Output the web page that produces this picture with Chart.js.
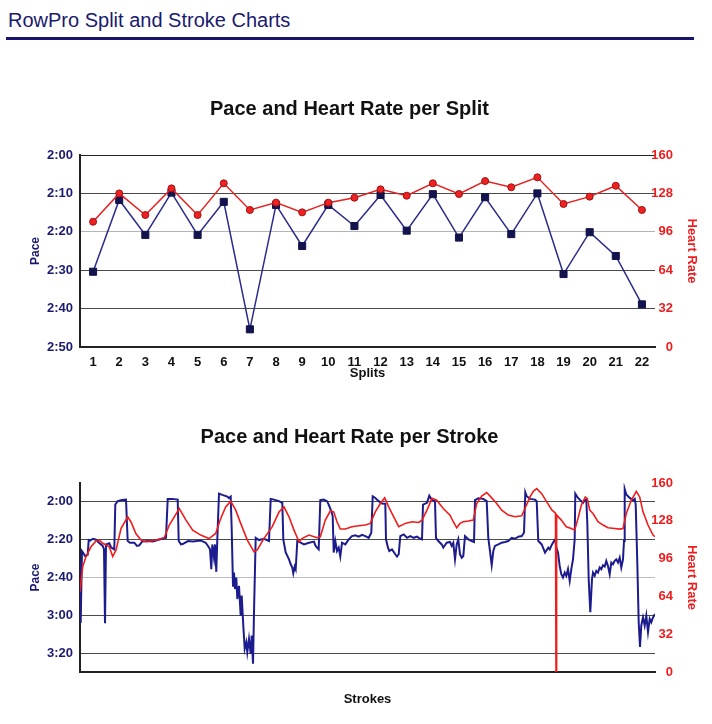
<!DOCTYPE html>
<html>
<head>
<meta charset="utf-8">
<title>RowPro Split and Stroke Charts</title>
<script src="https://cdn.jsdelivr.net/npm/chart.js@4.4.0/dist/chart.umd.min.js"></script>
<style>
  html, body { margin: 0; padding: 0; background: #fff; }
  body { width: 712px; height: 724px; position: relative; overflow: hidden; font-family: "Liberation Sans", Arial, sans-serif; }
  #header { position: absolute; left: 8px; top: 10px; font-size: 20px; line-height: 20px; color: #1a1a6e; white-space: nowrap; }
  #rule { position: absolute; left: 6px; top: 37px; width: 688px; height: 3px; background: #15156e; }
  #splitChart { position: absolute; left: 0; top: 80px; }
  #strokeChart { position: absolute; left: 0; top: 401px; }
</style>
</head>
<body>
<div id="header">RowPro Split and Stroke Charts</div>
<div id="rule"></div>
<canvas id="splitChart" width="712" height="306"></canvas>
<canvas id="strokeChart" width="712" height="310"></canvas>
<script>
// ---- split chart data (pace in seconds per 500m, heart rate in bpm)
const splitLabels = ['1', '2', '3', '4', '5', '6', '7', '8', '9', '10', '11',
                     '12', '13', '14', '15', '16', '17', '18', '19', '20', '21', '22'];
const splitPace = [150.4, 131.7, 140.8, 129.8, 140.8, 132.2, 165.4, 133, 143.7, 133, 138.5,
                   130.4, 139.7, 130.2, 141.5, 131, 140.6, 130, 151, 140.1, 146.3, 158.9];
const splitHr = [104.4, 128, 110, 132.2, 110, 136.4, 114.2, 120.3, 112.2, 120.3, 124.4,
                 131.4, 126.1, 136.4, 127.5, 138.3, 133.1, 141.4, 119.2, 125.3, 134.4, 114.2];

// ---- stroke chart data
const paceStrokeNo = [
  0, 0.7, 1.5, 2, 3.3, 5, 7.7, 8.7, 10, 13,
  16, 19, 22.7, 24, 25, 26, 29.3, 31, 34.3, 35.3,
  37.7, 42, 46, 47.7, 50, 54.3, 57, 59.3, 62, 68,
  72.7, 76, 82, 86, 87.7, 92, 97.7, 98.7, 101, 102.7,
  108, 113, 120.7, 125.7, 128, 130, 131.3, 132.3, 134, 135,
  136.3, 137.3, 139, 142.3, 147.3, 149, 150.7, 151.7, 153, 154,
  155, 156.3, 157.3, 159, 160.7, 161.7, 163.3, 164.7, 166.3, 167.3,
  169, 170.7, 171.7, 173, 174, 175.7, 179, 184, 189, 190.7,
  194, 199, 202.3, 203.3, 205.7, 209, 210.7, 212.3, 213.3, 214.7,
  215.7, 217.3, 220.7, 224, 229, 234, 235.3, 237, 238.7, 240.3,
  243.7, 247, 248.7, 251.3, 252.7, 253.7, 255.3, 257, 258.7, 260.3,
  262, 265.3, 268.7, 272, 275.3, 278.7, 282, 285.3, 288.7, 291.3,
  292.7, 295.3, 298.7, 302, 305.3, 306, 308, 309.3, 312, 315.3,
  317, 318.7, 320.3, 323.7, 327, 330.3, 333.7, 337, 340.3, 342,
  343, 347, 349.3, 351.7, 355, 356, 358.3, 361.7, 363.3, 366.7,
  370, 371.7, 373.3, 375, 376.7, 378.3, 380, 381.7, 383.3, 385,
  388.3, 391.7, 394, 395, 398.3, 403.3, 406.7, 408.3, 410, 411.7,
  413.3, 415, 418.3, 421.7, 425, 428.3, 431.7, 435, 438.3, 441.7,
  444, 445.3, 446.7, 450, 455, 456.7, 458.3, 461.7, 465, 468.3,
  469.7, 472, 474, 475.3, 476.3, 478, 479.7, 481.3, 483, 484.7,
  486.3, 488, 489.7, 491.3, 493, 494.7, 495.3, 498, 501.3, 503,
  504.7, 506.3, 507.3, 508.7, 510.3, 512, 513, 514.7, 516.3, 518,
  519.7, 521.3, 523, 524.7, 526.3, 528, 529.7, 531.3, 533, 534.7,
  536.3, 538, 539.7, 541.3, 543, 544, 544.7, 546.3, 549.7, 553,
  554.7, 555.7, 557.3, 558.7, 560, 561.3, 563, 564.7, 566.3, 568,
  569.7, 571.3, 573, 575
];
const paceStrokeSec = [
  152, 184, 160, 146, 147, 148.6, 148, 140.2, 140.5, 139.5,
  140, 141.6, 143.3, 145, 184.2, 142.5, 141.9, 144, 145.1, 121.4,
  119.6, 119, 118.8, 140.7, 141.6, 141.6, 143.3, 143, 141, 140.7,
  141, 140.4, 139.5, 139, 118.4, 118.4, 118.8, 140.7, 142.5, 142.3,
  140.7, 141, 140.4, 141.6, 143.3, 145.1, 155.6, 142.5, 149.5, 142.5,
  157, 139.8, 115.6, 116.3, 117.2, 118, 117.2, 134.6, 164.4, 157.4,
  166.1, 160, 171.4, 164.4, 180.2, 169.6, 185.4, 197.7, 194.2, 199.5,
  192.5, 200.4, 190.7, 205.6, 178.4, 139, 140.2, 139.5, 140.7, 118.4,
  118.8, 119.6, 120.5, 139.8, 146.8, 150.4, 153, 154.7, 157.7, 154.2,
  155.6, 140.7, 141.6, 142.5, 141.6, 141, 143, 144.2, 145.1, 119.1,
  118.8, 119.6, 121.4, 124.9, 127.5, 146.8, 140.7, 146, 144.2, 148.9,
  141.6, 142.5, 139.8, 138.1, 137.7, 138.4, 137.4, 138.1, 139, 136.3,
  117, 117.9, 119.6, 120.8, 121, 139.8, 144.2, 146, 145.1, 147.7,
  148.9, 147.7, 138.1, 137.2, 139, 138.1, 139, 138.4, 139.5, 139.8,
  121.4, 120.5, 116.7, 118.8, 119.6, 139, 140.7, 142.5, 144.2, 141.6,
  141.2, 143.3, 141.6, 150.4, 142.5, 139.8, 147.7, 149.5, 148.6, 138.1,
  139.8, 140.7, 141.2, 119.1, 118.1, 118.4, 119.6, 139, 146, 153.5,
  146, 143.3, 142.5, 141.6, 141.2, 140.7, 139, 139.5, 138.4, 138.1,
  136.3, 114.9, 117, 118.4, 118.8, 119.6, 140.7, 142.5, 146.8, 144.2,
  145.1, 142.5, 140.7, 139.8, 144.2, 146.8, 153.9, 158.2, 160, 157.4,
  159.1, 155.6, 161.8, 155.6, 150.4, 139.8, 115.6, 117.9, 119.6, 120.5,
  119.1, 118.8, 131.1, 160.9, 178.4, 160.9, 157.4, 159.1, 156.5, 157.4,
  154.7, 155.6, 153.5, 154.2, 151.2, 153.9, 158.2, 152.1, 153, 151.2,
  150.4, 152.1, 149.5, 154.7, 150.4, 140.7, 113.2, 116.1, 117.9, 119.1,
  118.4, 121.4, 152.1, 183.7, 196.8, 185.4, 181.1, 185.4, 180.2, 188.9,
  181.9, 183.7, 181.1, 179.3
];
const hrStrokeNo = [
  0, 2.7, 6, 11, 16, 19.3, 22.7, 26, 29.3, 32.7,
  36, 41, 47.7, 51, 56, 61, 66, 76, 84.3, 89.3,
  99.3, 106, 112.7, 120.7, 129, 135.7, 140.7, 145.7, 150.7, 155.7,
  160.7, 167.3, 174, 177.3, 184, 192.3, 199, 204, 209, 214,
  219, 222.3, 229, 237, 240.3, 245.3, 250.3, 253.7, 257, 260.3,
  265.3, 272, 278.7, 285.3, 290.3, 295.3, 300.3, 304.7, 308.7, 313.7,
  318.7, 325.3, 332, 338.7, 342, 347, 352, 356.7, 363.3, 370,
  373.3, 376.7, 380, 383.3, 388.3, 393.3, 396.7, 401.7, 406.7, 411.7,
  416.7, 421.7, 428.3, 435, 441.7, 445, 450, 453.3, 456.7, 461.7,
  466.7, 472, 475.5, 476, 476.6, 481.3, 486.3, 491.3, 494.7, 498,
  501.3, 505.3, 507.3, 509.7, 513, 518, 523, 528, 534.7, 539.7,
  543, 546.3, 551.3, 556.3, 559.7, 563, 568, 573, 575
];
const hrStrokeBpm = [
  68, 89, 97.7, 106, 111, 111.7, 109, 107.5, 106, 97.7,
  103, 121.5, 131.4, 127, 117, 111.7, 110.3, 111.7, 113.7, 124.4,
  138.4, 128.6, 120.1, 115.9, 113, 117.3, 130, 139.8, 144.6, 137,
  125.8, 111.7, 101.9, 103.3, 113.1, 123, 135.4, 139.8, 131.4, 120.1,
  110.3, 113.1, 115.9, 113.7, 114.5, 128.6, 136.3, 135.6, 127.2, 121,
  121, 123, 123.8, 124.4, 125.8, 135.6, 142.6, 147.4, 139.8, 131.4,
  123, 125.8, 127.2, 126.6, 128.6, 137, 147, 145.4, 138.4, 132.8,
  127.2, 122.1, 125.8, 127.2, 127.8, 128.6, 142.6, 149, 151.9, 147.4,
  142.6, 137, 132.8, 131.4, 132.2, 138.4, 148.2, 153, 155.2, 151,
  144, 137, 134.5, 0, 133, 128.6, 123, 121.5, 120.1, 130,
  141.2, 148.2, 146.8, 137, 134.2, 127.2, 124.4, 122.1, 121.5, 121,
  121.5, 134.2, 145.4, 153, 148.2, 135.6, 124.4, 115.9, 114.5
];
const strokePaceTicks = [120, 140, 160, 180, 200];

const FONT = '"Liberation Sans", Arial, Helvetica, sans-serif';
const NAVY = '#1a1a6e';
const RED = '#ee1c1c';

// grid lines look lighter where they fall between pixels in the original
const splitGridColors = ['#c8c8c8', '#4a4a4a', '#4a4a4a', '#b4b4b4', '#4a4a4a', '#222222'];
const strokeGridColors = ['#4a4a4a', '#4a4a4a', '#bcbcbc', '#4a4a4a', '#4a4a4a'];

function fmtPace(v) {
  const m = Math.floor(v / 60);
  const s = Math.round(v - m * 60);
  return m + ':' + String(s).padStart(2, '0');
}

function boldFont(size) {
  return { family: FONT, size: size, weight: 'bold', lineHeight: 1 };
}

function titleOpts(text) {
  return {
    display: true, text: text, color: '#111',
    font: { family: FONT, size: 20, weight: 'bold', lineHeight: 1.2 }
  };
}

function paceAxis(extra) {
  return Object.assign({
    position: 'left',
    reverse: true,
    border: { display: true, color: '#222', width: 2 },
    title: { display: true, text: 'Pace', color: NAVY, font: boldFont(12), padding: { top: 4, bottom: 4 } },
    afterFit: (scale) => { scale.width = 54; }
  }, extra);
}

// heart-rate axis: mirrored labels (no clipping) right-aligned at x=673,
// title pushed out into the right padding
function hrAxis() {
  return {
    position: 'right',
    min: 0,
    max: 160,
    ticks: { stepSize: 32, color: RED, mirror: true, padding: 18, crossAlign: 'near', font: boldFont(13) },
    grid: { display: false, drawTicks: false },
    border: { display: false },
    title: { display: true, text: 'Heart Rate', color: RED, font: boldFont(13), padding: { top: -25.5, bottom: 0 } },
    afterFit: (scale) => { scale.width = 18; }
  };
}

const common = {
  responsive: false,
  animation: false,
  devicePixelRatio: 1,
  layout: { padding: { left: 26, right: 39, top: 0, bottom: 0 } }
};

// ---- Pace and Heart Rate per Split
new Chart(document.getElementById('splitChart'), {
  type: 'line',
  data: {
    labels: splitLabels,
    datasets: [{
      label: 'Pace',
      data: splitPace,
      yAxisID: 'pace',
      order: 1,
      borderColor: '#2b2b8c',
      borderWidth: 1.5,
      tension: 0,
      pointStyle: 'rect',
      pointRadius: 5,
      pointBackgroundColor: '#13134d',
      pointBorderColor: '#13134d',
      pointBorderWidth: 1
    }, {
      label: 'Heart Rate',
      data: splitHr,
      yAxisID: 'hr',
      order: 0,
      borderColor: '#e52222',
      borderWidth: 1.5,
      tension: 0,
      pointStyle: 'circle',
      pointRadius: 3.5,
      pointBackgroundColor: '#ee2222',
      pointBorderColor: '#a01010',
      pointBorderWidth: 1
    }]
  },
  options: {
    ...common,
    plugins: {
      legend: { display: false },
      tooltip: { enabled: false },
      title: { ...titleOpts('Pace and Heart Rate per Split'), padding: { top: 17, bottom: 34 } }
    },
    scales: {
      x: {
        offset: true,
        grid: { display: false, drawTicks: false },
        border: { display: true, color: '#222', width: 2 },
        ticks: { color: '#111', padding: 9, font: boldFont(13), maxRotation: 0, autoSkip: false },
        title: { display: true, text: 'Splits', color: '#111', font: boldFont(13), padding: { top: 0, bottom: 6.5 } },
        afterFit: (scale) => { scale.height = 39; }
      },
      pace: paceAxis({
        min: 120,
        max: 170,
        ticks: { stepSize: 10, color: NAVY, padding: 7, font: boldFont(13), callback: fmtPace },
        grid: { drawTicks: false, color: (c) => splitGridColors[c.index] || '#4a4a4a', lineWidth: 1 }
      }),
      hr: hrAxis()
    }
  }
});

// ---- Pace and Heart Rate per Stroke
const pacePoints = paceStrokeNo.map((s, i) => ({ x: s, y: paceStrokeSec[i] }));
const hrPoints = hrStrokeNo.map((s, i) => ({ x: s, y: hrStrokeBpm[i] }));

new Chart(document.getElementById('strokeChart'), {
  type: 'line',
  data: {
    datasets: [{
      label: 'Pace',
      data: pacePoints,
      yAxisID: 'pace',
      order: 1,
      borderColor: '#1c1c8e',
      borderWidth: 2,
      tension: 0,
      pointRadius: 0
    }, {
      label: 'Heart Rate',
      data: hrPoints,
      yAxisID: 'hr',
      order: 0,
      borderColor: '#f01c1c',
      borderWidth: 1.6,
      tension: 0,
      pointRadius: 0
    }]
  },
  options: {
    ...common,
    plugins: {
      legend: { display: false },
      tooltip: { enabled: false },
      title: { ...titleOpts('Pace and Heart Rate per Stroke'), padding: { top: 24, bottom: 34 } }
    },
    scales: {
      x: {
        type: 'linear',
        min: 0,
        max: 575,
        grid: { display: false, drawTicks: false },
        border: { display: true, color: '#222', width: 2 },
        ticks: { display: false },
        title: { display: true, text: 'Strokes', color: '#111', font: boldFont(13), padding: { top: 0, bottom: 5.5 } },
        afterFit: (scale) => { scale.height = 39; }
      },
      pace: paceAxis({
        min: 110,
        max: 210,
        afterBuildTicks: (scale) => { scale.ticks = strokePaceTicks.map((v) => ({ value: v })); },
        ticks: { color: NAVY, padding: 7, font: boldFont(13), callback: fmtPace },
        grid: { drawTicks: false, color: (c) => strokeGridColors[c.index] || '#4a4a4a', lineWidth: 1 }
      }),
      hr: hrAxis()
    }
  }
});
</script>
</body>
</html>
